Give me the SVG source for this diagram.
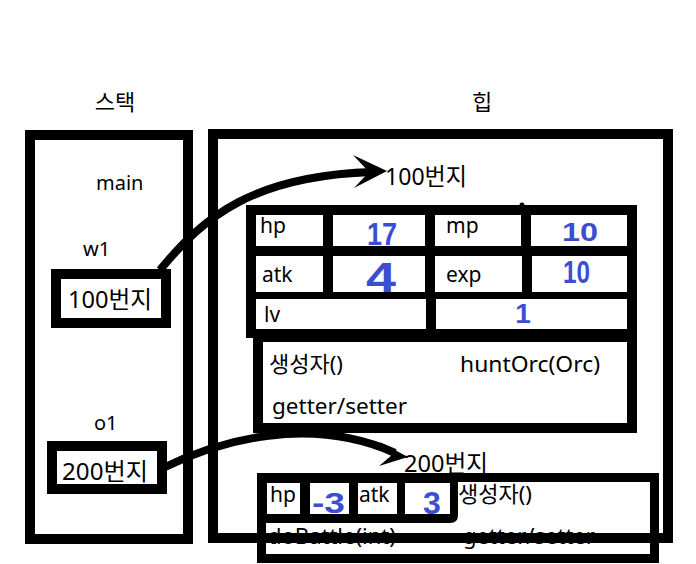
<svg xmlns="http://www.w3.org/2000/svg" width="696" height="564" viewBox="0 0 696 564">
<style>
.t{font-family:"Noto Sans","Noto Sans CJK KR",sans-serif;fill:#000}
.b{font-family:"Liberation Sans","DejaVu Sans",sans-serif;font-weight:bold;fill:#3b4ed2}
.box{fill:none;stroke:#000;stroke-width:10}
.cell{fill:#fff}
.con{fill:none;stroke:#000;stroke-width:8}
</style>
<rect width="696" height="564" fill="#fff"/>
<g id="stack">
<text class="t" x="115" y="110" font-size="22" text-anchor="middle">스택</text>
<rect class="box" x="30" y="135" width="158" height="404"/>
<text class="t" x="96" y="190" font-size="20">main</text>
</g>
<g id="w1">
<text class="t" x="83" y="256" font-size="20">w1</text>
<rect class="box" x="56" y="274" width="110" height="49"/>
<text class="t" x="68" y="308" font-size="24" textLength="84" lengthAdjust="spacingAndGlyphs">100번지</text>
</g>
<g id="o1">
<text class="t" x="94" y="430" font-size="20">o1</text>
<rect class="box" x="52" y="446" width="110" height="43"/>
<text class="t" x="62" y="480" font-size="24" textLength="86" lengthAdjust="spacingAndGlyphs">200번지</text>
</g>
<g id="warrior">
<text class="t" x="385" y="185" font-size="24" textLength="82" lengthAdjust="spacingAndGlyphs">100번지</text>
<rect x="246" y="205" width="391" height="133" fill="#000"/>
<rect x="253" y="329" width="384" height="104" fill="#000"/>
<circle cx="522" cy="205" r="2.5" fill="#000"/>
<rect class="cell" x="256" y="215" width="67" height="31"/>
<rect class="cell" x="333" y="215" width="92" height="31"/>
<rect class="cell" x="435" y="215" width="86" height="31"/>
<rect class="cell" x="531" y="215" width="96" height="31"/>
<rect class="cell" x="256" y="256" width="67" height="36"/>
<rect class="cell" x="333" y="256" width="92" height="36"/>
<rect class="cell" x="435" y="256" width="87" height="36"/>
<rect class="cell" x="532" y="256" width="95" height="36"/>
<rect class="cell" x="256" y="299" width="170" height="30"/>
<rect class="cell" x="436" y="299" width="191" height="30"/>
<rect class="cell" x="263" y="342" width="364" height="81"/>
<text class="t" x="260" y="233" font-size="21">hp</text>
<text class="t" x="446" y="233" font-size="21">mp</text>
<text class="t" x="262" y="282" font-size="21">atk</text>
<text class="t" x="446" y="282" font-size="21">exp</text>
<text class="t" x="264" y="322" font-size="21">lv</text>
<text class="b" x="367" y="245" font-size="32" textLength="30" lengthAdjust="spacingAndGlyphs">17</text>
<text class="b" x="562" y="241" font-size="26" textLength="36" lengthAdjust="spacingAndGlyphs">10</text>
<text class="b" x="366" y="292" font-size="42" textLength="30" lengthAdjust="spacingAndGlyphs">4</text>
<text class="b" x="563" y="283" font-size="32" textLength="27" lengthAdjust="spacingAndGlyphs">10</text>
<text class="b" x="523" y="323" font-size="28" text-anchor="middle">1</text>
<text class="t" x="269" y="372" font-size="22">생성자()</text>
<text class="t" x="460" y="372" font-size="22" textLength="140" lengthAdjust="spacingAndGlyphs">huntOrc(Orc)</text>
<text class="t" x="272" y="414" font-size="22" textLength="135" lengthAdjust="spacingAndGlyphs">getter/setter</text>
</g>
<g id="orc">
<text class="t" x="404" y="472" font-size="24" textLength="84" lengthAdjust="spacingAndGlyphs">200번지</text>
<rect x="257" y="473" width="402" height="90" fill="#000"/>
<rect class="cell" x="266" y="482" width="384" height="72"/>
<path d="M266 482 H458 V515 Q458 523 450 523 H266 Z" fill="#000"/>
<rect class="cell" x="267" y="483" width="33" height="31"/>
<rect class="cell" x="310" y="483" width="39" height="31"/>
<rect class="cell" x="358" y="483" width="39" height="31"/>
<rect class="cell" x="405" y="483" width="45" height="31"/>
<text class="t" x="270" y="502" font-size="21">hp</text>
<text class="t" x="359" y="502" font-size="21">atk</text>
<text class="b" x="312" y="513" font-size="30" textLength="33" lengthAdjust="spacingAndGlyphs">-3</text>
<text class="b" x="432" y="514" font-size="32" text-anchor="middle">3</text>
<text class="t" x="458" y="502" font-size="22">생성자()</text>
<text class="t" x="268" y="544" font-size="22">doBattle(int)</text>
<text class="t" x="463" y="544" font-size="22">getter/setter</text>
</g>
<g id="heap">
<text class="t" x="482" y="110" font-size="22" text-anchor="middle">힙</text>
<rect class="box" x="213" y="134" width="455" height="404"/>
</g>
<g id="connectors">
<path class="con" d="M160 270 C205 215 255 176 372 172"/>
<polygon points="387,171 353,155 369,172 354,188" fill="#000"/>
<path class="con" d="M163 468 C220 440 310 415 395 453"/>
<polygon points="408,457 380,442 392,455 379,466" fill="#000"/>
</g>
</svg>
